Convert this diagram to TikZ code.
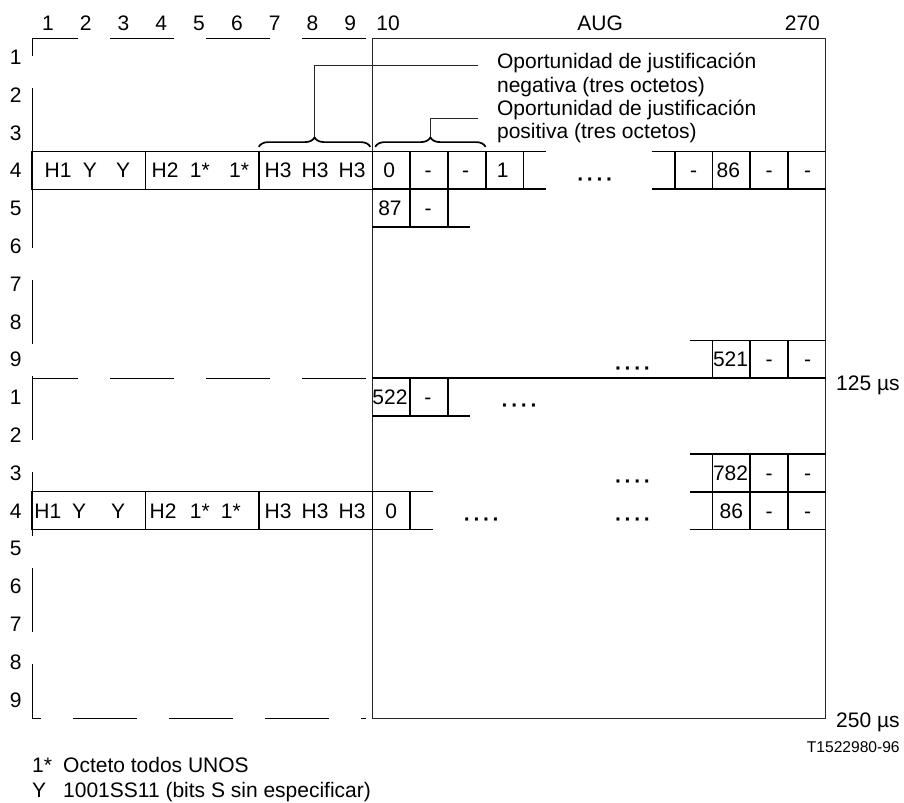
\documentclass[tikz,border=0pt]{standalone}
\usepackage{fontspec}
\setmainfont{Liberation Sans}
\usetikzlibrary{decorations.pathreplacing}
\newcommand{\fourdots}{\bfseries ·\kern2.6pt·\kern2.6pt·\kern2.6pt·}

\begin{document}
\begin{tikzpicture}[
  x=37.8pt, y=-37.8pt,
  txt/.style={font=\fontsize{21}{23}\selectfont, inner sep=0pt, text height=15pt, text depth=0pt},
  lbl/.style={txt, anchor=base},
  note/.style={txt, anchor=base west},
  frame/.style={line width=0.9pt, black!85},
  cellbox/.style={line width=1.2pt},
  strip/.style={line width=1.8pt},
  outline/.style={line width=0.9pt, dash pattern=on 64pt off 32pt},
  brace/.style={decorate, decoration={brace, amplitude=9.5pt}, line width=1.7pt}
]
\useasboundingbox (-0.8466,-1.0053) rectangle (23.069,20.238);

\foreach \k in {1,...,10}
  \node[lbl] (col\k) at (\k-0.58,-0.19) {\k};
\node[lbl] (aug) at (15.03,-0.19) {AUG};
\node[lbl] (col270) at (20.38,-0.19) {270};
\foreach \r in {1,...,9} {
  \node[txt] (rowa\r) at (-0.43,\r-0.5) {\r};
  \node[txt] (rowb\r) at (-0.43,\r+8.5) {\r};
}

\draw[outline] (8.84,0) -- (0,0) -- (0,18) -- (8.84,18);
\draw[outline] (8.84,9) -- (0,9);
\draw[frame] (9,0) rectangle (21,18);
\draw[strip] (9,9) -- (21,9);

\draw[cellbox] (0,3) rectangle (9,4) (0,12) rectangle (9,13);
\draw[strip] (3,3) -- (3,4) (6,3) -- (6,4) (3,12) -- (3,13) (6,12) -- (6,13);
\foreach \t/\x [count=\i] in {H1/0.69, Y/1.53, Y/2.41, H2/3.52, 1*/4.44, 1*/5.48, H3/6.51, H3/7.49, H3/8.47}
  \node[txt] (hda\i) at (\x,3.5) {\t};
\foreach \t/\x [count=\i] in {H1/0.42, Y/1.25, Y/2.28, H2/3.47, 1*/4.44, 1*/5.26, H3/6.51, H3/7.49, H3/8.47}
  \node[txt] (hdb\i) at (\x,12.5) {\t};

\draw[strip] (9,3) -- (13.6,3) (9,4) -- (13.6,4) (16.4,3) -- (21,3) (16.4,4) -- (21,4);
\foreach \x in {10,11,12,13,17,18,19,20}
  \draw[strip] (\x,3) -- (\x,4);
\draw[strip] (9,5) -- (11.6,5) (10,4) -- (10,5) (11,4) -- (11,5);
\draw[strip] (17.4,8) -- (21,8) (18,8) -- (18,9) (19,8) -- (19,9) (20,8) -- (20,9);
\draw[strip] (9,10) -- (11.6,10) (10,9) -- (10,10) (11,9) -- (11,10);
\draw[strip] (17.4,11) -- (21,11) (17.4,12) -- (21,12) (17.4,13) -- (21,13);
\foreach \x in {18,19,20}
  \draw[strip] (\x,11) -- (\x,13);
\draw[cellbox] (9,12) -- (10.6,12) (9,13) -- (10.6,13);
\draw[strip] (10,12) -- (10,13);

\foreach \t/\x/\y [count=\i] in {0/9.45/3.5, -/10.48/3.5, -/11.47/3.5, 1/12.45/3.5,
    -/17.5/3.5, 86/18.42/3.5, -/19.5/3.5, -/20.52/3.5,
    87/9.47/4.5, -/10.48/4.5,
    521/18.48/8.5, -/19.5/8.5, -/20.52/8.5,
    522/9.47/9.5, -/10.47/9.5,
    782/18.48/11.5, -/19.5/11.5, -/20.52/11.5,
    0/9.5/12.5, 86/18.5/12.5, -/19.5/12.5, -/20.52/12.5}
  \node[txt] (oct\i) at (\x,\y) {\t};
\foreach \x/\y [count=\i] in {14.9/3.72, 15.9/8.72, 12.9/9.72, 15.9/11.72, 11.9/12.72, 15.9/12.72}
  \node[txt] (gap\i) at (\x,\y) {\fourdots};

\draw[brace] (6.0,2.88) -- (8.95,2.88);
\draw[brace] (9.08,2.88) -- (12.0,2.88);
\coordinate (negtip) at (7.475,2.63);
\coordinate (negend) at (11.8,0.72);
\coordinate (postip) at (10.54,2.63);
\coordinate (posend) at (11.8,2.12);
\draw[frame] (negtip) |- (negend);
\draw[frame] (postip) |- (posend);
\node[note] (neg1) at (12.3,0.794) {Oportunidad de justificación};
\node[note] (neg2) at (12.3,1.43) {negativa (tres octetos)};
\node[note] (pos1) at (12.3,2.04) {Oportunidad de justificación};
\node[note] (pos2) at (12.3,2.65) {positiva (tres octetos)};

\node[txt, anchor=east] (t125) at (22.96,9.12) {125 µs};
\node[txt, anchor=east] (t250) at (22.96,18.04) {250 µs};
\node[txt, anchor=east, font=\fontsize{15.6}{17}\selectfont, text height=11pt] (fig) at (22.96,18.76) {T1522980-96};

\node[txt, anchor=west] (keyone) at (0.0,19.23) {1*};
\node[txt, anchor=west] (keyonet) at (0.82,19.23) {Octeto todos UNOS};
\node[txt, anchor=west] (keyy) at (0.0,19.89) {Y};
\node[txt, anchor=west] (keyyt) at (0.82,19.89) {1001SS11 (bits S sin especificar)};
\end{tikzpicture}
\end{document}
